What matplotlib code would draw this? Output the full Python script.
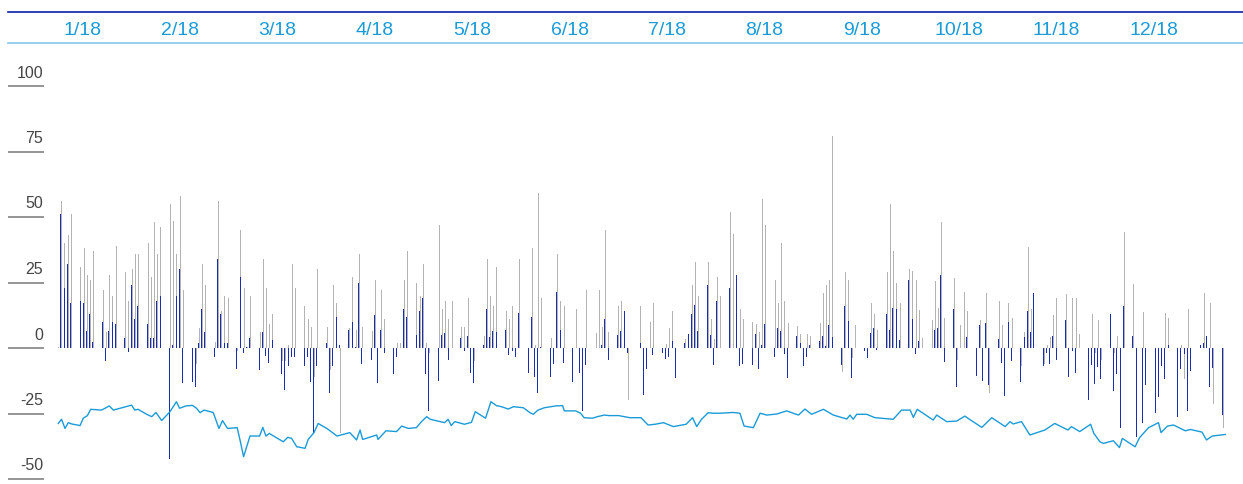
import numpy as np
import pandas as pd
import matplotlib
matplotlib.use("Agg")
import matplotlib.pyplot as plt
import matplotlib.transforms as mtransforms

plt.rcParams['font.family'] = ['Liberation Sans', 'DejaVu Sans']

# daily values, one row per week (Mon..Fri), 2018
blue = [
    0, 51, 23, 32, 17,
    18, 17, 6.5, 13, 2.4,
    10, -5, 6.5, 10, 9,
    4, -1.5, 24, 11, 16,
    9, 4, 4, 18, 20,
    -42.5, 1, 20, 30, -13.5,
    -13, -15, 2, 15, 6,
    -3.3, 34, 13, 2, 2,
    -8, 27, -2, 0.5, 4,
    -8.4, 6, -3, -5.6, 3,
    -10, -16, -7, -3.3, -3.3,
    -7, -3.3, -13, -32.6, -7,
    2, -17, -7, 12, 1,
    7, 10, 0.5, 25, -6,
    -4.6, 12.6, -13.5, 7, -2,
    -10, -3.3, 0, 15, 12,
    5, 14, 19, -10, -24,
    -12.6, 5, 5.6, -4.6, 0,
    3.7, -1, 4.6, -9.7, -13.5,
    1, 15, 4.3, 6.5, 6.2,
    7, -2.7, -1, -3.3, 13.5,
    -9.7, 12, -11, -17, 0.5,
    -11, -6, 21.5, 7, -5.6,
    -13, 0, -9.4, -24, -6.5,
    0, 0, 1, 11, -4.6,
    5, 6.5, 14, -2, 0,
    2, -18, -8, 0, -2.7,
    -1.8, -4.3, -3.3, 2.7, -11.3,
    1.8, 5.2, 12.8, 16.4, 6.5,
    24, 5, -6.5, 18, 0,
    23, 0, 28, -7, -6,
    -6.5, 5.3, -8, 1, 9,
    -3.3, 7.5, 6.6, -2.4, -11.6,
    4.6, 2, -7, -3.3, 1,
    2.7, 4.6, 0.8, 8.8, 4.3,
    -6.5, 16, 10.4, -11.3, 0,
    -1, -4, 5.8, 7.8, -0.8,
    13, 7, 15.4, 14.8, 3,
    26, 11, -2.4, 2.7, 0,
    0, 7, 7.8, 28, -5.2,
    14.8, -14.8, 0, 0, 4.3,
    -10.7, 8.8, -12.5, 9.4, -14,
    3.3, -5.8, -18.3, 10, -5,
    -12.8, 4.3, 14.2, 6, 21,
    -7, -2, -6, 4.7, -4.6,
    10.7, -11, -1, -9.4, 0,
    -20, -6.5, -13.7, -7.4, -12,
    12.8, -16.4, -10, -30.7, 16,
    4.7, -34, 0, -28.8, -14,
    -24.7, -18.8, -7, -12, 1,
    -26.5, -8, -2.3, -24, -8.7,
    1, 2, 4.6, -15, -7.8,
    -25.6,
]

gray = [
    0.5, 56, 40, 43, 51,
    31, 38, 28, 26, 37,
    22, 6, 28, 20, 39,
    29, 18, 30, 36, 36,
    40, 27, 48, 36, 46,
    55, 48.5, 36, 58, 22,
    -5, -6, 7.5, 32, 24,
    2.4, 56, 14, 20, 19,
    -1, 45, 23, 0.5, 20,
    6, 34, 23, 9, 13,
    -5, -5, 1, 32, 23,
    16, 11, 8, -11, 30,
    8, -8.4, 24, 17, -32.6,
    7.5, 27, 7, 36, 8,
    6.6, 26, 0, 22, 11,
    0, 2, 2, 26, 37,
    25, 20, 32, 2, -2,
    47, 15, 18, 11, 18,
    8, 8, 19, 0, -5,
    4.6, 34, 20, 16, 31,
    14, 11, 16, 0, 34,
    0, 38, 1, 59, 19,
    4, 0, 36, 18, 16,
    0, 15, 0, 0, 22,
    5.6, 22, 8, 45, 6,
    16, 18, 14, -20, 0,
    16, 0, 0, 10, 17,
    0, 1.4, 7.5, 14, 0,
    3.3, 5.3, 24, 33, 20,
    33, 11, 3.3, 27, 20,
    52, 43.5, 0, 15, 11,
    10, 9, 6, 57, 47,
    26, 17, 40, 18, 9.4,
    8.4, 5.3, 0, 5.3, 4.6,
    9.7, 21, 24, 26, 81,
    -9, 29, 26, -4, 8.8,
    0, 0, 17, 13, 7,
    29, 55, 37, 25, 17,
    30, 29.5, 26, 14.5, 4,
    10.7, 25.6, 15.4, 48, 11.6,
    26.6, -4.6, 8.8, 21.5, 14,
    0, 10.7, 0, 21, -17,
    18, 8.8, 0, 17, 11.6,
    -7, 6, 38.4, 15, 0,
    -6, 1, 4.3, 12.6, 19,
    20.6, 0, 19, 19, 5.3,
    -4, 12.8, -2, 10.7, -4.6,
    0, -2, 4.6, -7, 44.4,
    24.4, -33, 0, 13.6, 0,
    0, 0, 0, 13.5, 11.3,
    0, 1, -12, 14.8, 0,
    1, 21, 0, 17, -21.4,
    -30.7,
]

# line: day of year -> value
line_day = [0.1, 1.1, 2.2, 3.2, 4.3, 6.9, 7.9, 9.2, 10.2, 13.6, 15, 16, 17.3, 19.4, 23, 24, 25,
            27.7, 29.3, 30.6, 32.4, 35, 37, 38, 40, 42, 43.3, 44.4, 45.6, 48.5, 50.3, 51.4, 53,
            56, 57, 58, 60, 63, 64, 65, 66, 70.4, 71.8, 73, 74.6, 75.6, 77.2, 78.2, 80, 81.3,
            84, 87.2, 91.2, 93.3, 94.4, 95.2, 99.6, 100, 102.5, 105.8, 107.4, 109.5, 112, 113.6,
            115.2, 116.3, 120.8, 121.9, 122.9, 124, 127, 129.2, 130.4, 133.6, 135.3, 137, 138.6,
            140.7, 142.3, 145.4, 147.5, 148.5, 150, 152, 155.6, 157.7, 158.2, 161.8, 163.3,
            164.4, 167, 168.6, 170.7, 172.2, 175.2, 178.7, 182.2, 184.4, 186.6, 189.2, 192.3,
            196.3, 198.3, 199.6, 201.1, 203.2, 204.8, 206.9, 211, 213.1, 214.4, 217.3, 219.4,
            221.5, 224.6, 227.7, 231.4, 233.4, 235.5, 239.2, 242.3, 246.5, 247.5, 248.5, 249.6,
            252.7, 255.3, 261, 263.6, 266.3, 267.3, 268.5, 273.5, 274.6, 277.7, 280.8, 283.4,
            284.8, 288.7, 291.8, 296, 297.5, 298.5, 301.1, 303.7, 308.4, 311.5, 315.6, 316.7,
            319.3, 322.7, 323.7, 325.6, 326.7, 329.8, 331.7, 332.6, 336.6, 338, 340.8, 343.9,
            344.7, 346.7, 348.6, 352.3, 353.9, 357.5, 358.9, 360.7, 364.8]
line_val = [-28.8, -27.2, -30.7, -28.5, -29, -29.6, -26.8, -25.8, -23.4, -23.7, -22.8, -22.1,
            -23.7, -23, -21.8, -23.7, -23.4, -25.3, -26.2, -24.6, -27.7, -24.3, -20.5, -23,
            -22.1, -21.9, -23, -24.7, -23.7, -24.6, -30.7, -27.7, -30.7, -30.4, -35.8, -41.5,
            -33.6, -33.6, -30.3, -33.6, -32.6, -35.8, -34.1, -34.5, -37.7, -37.9, -38.3, -34.9,
            -32.3, -28.8, -30.7, -33.6, -32.3, -35.1, -31.3, -34.9, -33.2, -34.9, -31.6, -31.9,
            -29.8, -30.7, -30.4, -28.1, -26.2, -27.2, -28.5, -27.2, -29.6, -28.1, -29.1, -28.4,
            -24.3, -26.8, -20.5, -22, -22.4, -23.3, -22.4, -22.8, -24.7, -25.3, -23.7, -22.8,
            -22.1, -22, -24, -24, -24.9, -26.6, -26.8, -26.2, -25.6, -25.8, -25.8, -26.6, -26.6,
            -29.4, -29.1, -28.5, -30, -29.1, -26.6, -30, -27.2, -24.7, -24.9, -24.9, -24.6,
            -24.9, -29.8, -30.4, -24.9, -25.6, -25.2, -24, -25.6, -23.3, -25.3, -23.4, -25.6,
            -27.1, -25.6, -27.2, -25.3, -25.3, -26.6, -27.2, -23.7, -23.7, -26.5, -23.4, -27.5,
            -25.6, -28.1, -27.9, -26, -27.2, -30.3, -26.6, -30, -28.1, -29, -28.1, -33.2, -31.3,
            -28.8, -31.3, -30, -31.9, -29.1, -32.6, -35.8, -36.4, -35.4, -38, -34.5, -37.7,
            -34.2, -30.4, -28.5, -32.3, -29.8, -29.4, -31.6, -31.1, -32.1, -35.1, -33.6, -33]

month_labels = ['1/18', '2/18', '3/18', '4/18', '5/18', '6/18',
                '7/18', '8/18', '9/18', '10/18', '11/18', '12/18']
yticks = [100, 75, 50, 25, 0, -25, -50]

dates = pd.bdate_range("2018-01-01", "2018-12-31")
day = np.asarray(dates.dayofyear) - 1
assert len(blue) == len(day) and len(gray) == len(day)
assert len(line_day) == len(line_val)

W, H = 1243, 484
fig = plt.figure(figsize=(W / 100, H / 100), dpi=100)


def px_box(x0, y0, x1, y1):
    return [x0 / W, 1 - y1 / H, (x1 - x0) / W, (y1 - y0) / H]


ax = fig.add_axes(px_box(8, 50, 1243, 484))
hdr = fig.add_axes(px_box(8, 12, 1243, 43), sharex=ax)

# 58 px = Jan 1, 3.2 px per day; 0 at y=348, 2.62 px per unit
ax.set_xlim((8 - 58) / 3.2, (1243 - 58) / 3.2)
ax.set_ylim((348 - 484) / 2.62, (348 - 50) / 2.62)
ax.axis('off')

ax.bar(day + 0.17, gray, width=0.32, color='#b3b3b3', linewidth=0)
ax.bar(day - 0.12, blue, width=0.32, color='#1a2db0', linewidth=0)
ax.plot(line_day, line_val, color='#1a9bd8', lw=1.0)

trans = mtransforms.blended_transform_factory(ax.transAxes, ax.transData)
tick_x = (44 - 8) / (1243 - 8)
for v in yticks:
    ax.plot([0, tick_x], [v, v], transform=trans, color='#8c8c8c', lw=1.3,
            solid_capstyle='butt', clip_on=False)
    ax.annotate(str(v), xy=(tick_x, v), xycoords=trans, xytext=(-1, 8.5),
                textcoords='offset pixels', ha='right', va='baseline',
                fontsize=11.5, color='#454545')

# header strip with month labels
hdr.set_ylim(0, 1)
for s in ['left', 'right']:
    hdr.spines[s].set_visible(False)
hdr.spines['top'].set_color('#0a1fa5')
hdr.spines['top'].set_linewidth(1.2)
hdr.spines['bottom'].set_color('#84c8ee')
hdr.spines['bottom'].set_linewidth(1.2)
hdr.set_xticks([])
hdr.set_yticks([])
hdr.tick_params(labelbottom=False)
month_pos = 7.8 + np.arange(12) * 365 / 12
for p, lab in zip(month_pos, month_labels):
    hdr.text(p, 0.26, lab, ha='center', va='baseline', fontsize=14, color='#1a9bd8')

fig.savefig('out.png', dpi=100)
